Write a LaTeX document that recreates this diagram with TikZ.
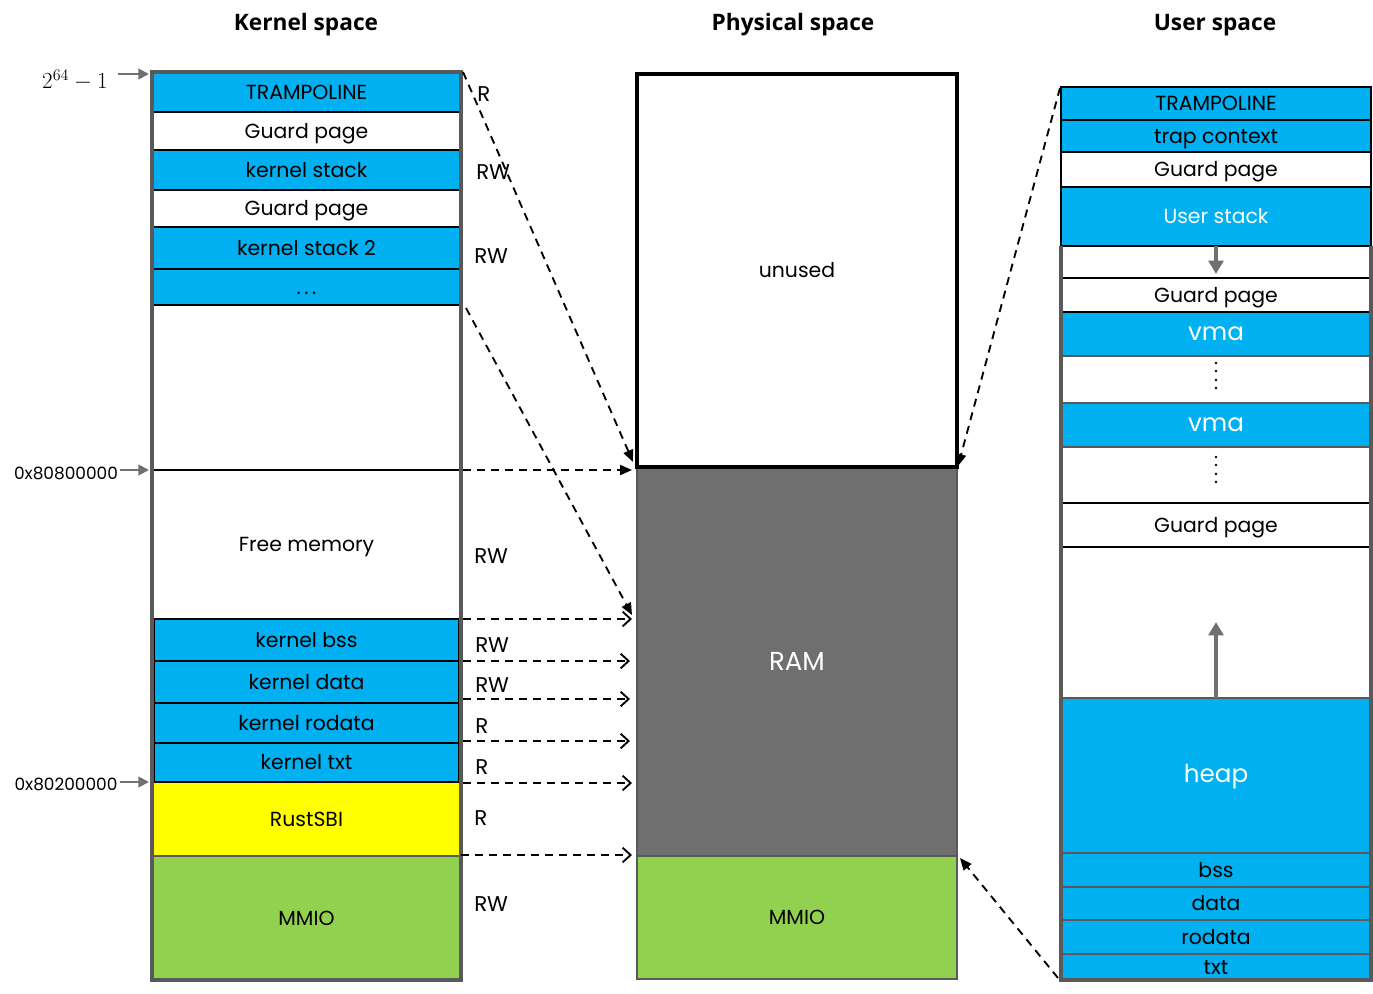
\documentclass[tikz,border=0pt]{standalone}
\usepackage{fontspec}
\setmainfont{Poppins}
\newfontfamily\titlefont{Open Sans}
\usetikzlibrary{arrows.meta,calc}
\definecolor{cblue}{HTML}{00B0F0}
\definecolor{cgreen}{HTML}{92D050}
\definecolor{cyellow}{HTML}{FFFF00}
\definecolor{cram}{HTML}{6F6F6F}
\definecolor{cborder}{HTML}{595959}
\definecolor{carrow}{HTML}{707070}
\tikzset{
  cellbase/.style={inner sep=0pt, outer sep=0pt, line width=2.2pt, text height=12pt, text depth=1pt, font=\fontsize{15.3}{17}\selectfont},
  bluecell/.style={cellbase, fill=cblue, draw=black},
  whitecell/.style={cellbase, fill=white, draw=black},
  graycell/.style={cellbase, draw=cborder},
  bigwhite/.style={text=white, text height=11pt, text depth=1pt, font=\fontsize{18.5}{20}\selectfont},
  ramtext/.style={text=white, text height=14.5pt, text depth=1pt, font=\fontsize{19.5}{21}\selectfont},
  outerframe/.style={draw=cborder, line width=2.4pt},
  dashcon/.style={dash pattern=on 6pt off 4.5pt, line width=1.4pt},
  filledtip/.style={-{Triangle[length=9pt,width=7.5pt]}},
  opentip/.style={-{Straight Barb[length=6pt,width=11pt,line width=1.4pt]}},
  grayarrow/.style={draw=carrow, line width=1.6pt, -{Triangle[length=8pt,width=8pt]}},
  fatgray/.style={draw=carrow, line width=3pt, -{Triangle[length=10pt,width=11pt]}},
  perm/.style={anchor=west, inner sep=0pt, font=\fontsize{16}{18}\selectfont},
  addr/.style={inner sep=0pt, font=\fontsize{12.7}{14}\selectfont},
  titletext/.style={font=\titlefont\bfseries\fontsize{17}{20}\selectfont},
}
% style, name, x1, y1, x2, y2, text (pixel coordinates)
\newcommand\mkcell[7]{\node[#1, minimum width={(#5-#3)*0.75pt}, minimum height={(#6-#4)*0.75pt}] (#2) at ({(#3+#5)/2},{(#4+#6)/2}) {#7};}
\begin{document}
\begin{tikzpicture}[x=0.75pt,y=-0.75pt]
\useasboundingbox (0,0) rectangle (1373,993);
\fill[white] (0,0) rectangle (1373,993);

% titles
\node[titletext] (t1) at (306,25) {Kernel space};
\node[titletext] (t2) at (793,25) {Physical space};
\node[titletext] (t3) at (1215,25) {User space};

% ---------------- kernel space ----------------
\mkcell{graycell, fill=cgreen}{kN}{152}{856}{461}{980}{MMIO}
\mkcell{graycell, fill=cyellow}{kM}{152}{782}{461}{856}{RustSBI}
\mkcell{graycell, fill=white}{kH}{152}{470}{461}{619}{Free memory}
\mkcell{bluecell}{kI}{154}{619}{459}{661}{kernel bss}
\mkcell{bluecell}{kJ}{154}{661}{459}{703}{kernel data}
\mkcell{bluecell}{kK}{154}{703}{459}{743}{kernel rodata}
\mkcell{bluecell}{kL}{154}{743}{459}{782}{kernel txt}
\mkcell{whitecell}{kG}{152}{305}{461}{470}{}
\mkcell{bluecell}{kF}{152}{269}{461}{305}{.\,.\,.}
\mkcell{bluecell}{kE}{152}{227}{461}{269}{kernel stack 2}
\mkcell{whitecell}{kD}{152}{190}{461}{227}{Guard page}
\mkcell{bluecell}{kC}{152}{150}{461}{190}{kernel stack}
\mkcell{whitecell}{kB}{152}{112}{461}{150}{Guard page}
\mkcell{bluecell}{kA}{152}{72}{461}{112}{TRAMPOLINE}
\draw[outerframe] (kA.north west) rectangle (kN.south east);

% address labels
\node[inner sep=0pt, font=\fontsize{18}{20}\selectfont] (a1) at (75,80) {$2^{64}-1$};
\node[addr] (a2) at (66,473) {0x80800000};
\node[addr] (a3) at (66,784) {0x80200000};
\coordinate (a1e) at (118,74);
\draw[grayarrow] (a1e) -- ($(kA.north west)+(-3,2)$);
\draw[grayarrow] ($(a2.east)+(2,-3)$) -- ($(kH.north west)+(-3,0)$);
\draw[grayarrow] ($(a3.east)+(2,-2)$) -- ($(kM.north west)+(-3,0)$);

% permissions
\node[perm] (r1) at (477,94) {R};
\node[perm] (r2) at (476,172) {RW};
\node[perm] (r3) at (474,256) {RW};
\node[perm] (r4) at (474,556) {RW};
\node[perm] (r5) at (475,645) {RW};
\node[perm] (r6) at (475,685) {RW};
\node[perm] (r7) at (475,726) {R};
\node[perm] (r8) at (475,767) {R};
\node[perm] (r9) at (474,818) {R};
\node[perm] (r10) at (474,904) {RW};

% ---------------- physical space ----------------
\mkcell{graycell, fill=cram, ramtext}{pR}{637}{467}{957}{856}{RAM}
\mkcell{graycell, fill=cgreen}{pM}{637}{856}{957}{979}{MMIO}
\mkcell{whitecell, line width=2.6pt}{pU}{637}{74}{957}{467}{unused}

% ---------------- user space ----------------
\mkcell{graycell, fill=cblue, bigwhite}{uM}{1061}{698}{1371}{853}{heap}
\mkcell{graycell, fill=cblue}{uN}{1061}{853}{1371}{887}{bss}
\mkcell{graycell, fill=cblue}{uO}{1061}{887}{1371}{920}{data}
\mkcell{graycell, fill=cblue}{uP}{1061}{920}{1371}{954}{rodata}
\mkcell{graycell, fill=cblue}{uQ}{1061}{954}{1371}{980}{txt}
\mkcell{graycell, fill=white}{uL}{1061}{547}{1371}{698}{}
\mkcell{graycell, fill=white}{uJ}{1061}{447}{1371}{503}{}
\mkcell{graycell, fill=cblue, bigwhite}{uI}{1061}{403}{1371}{447}{vma}
\mkcell{graycell, fill=white}{uH}{1061}{356}{1371}{403}{}
\mkcell{graycell, fill=cblue, bigwhite}{uG}{1061}{312}{1371}{356}{vma}
\mkcell{graycell, fill=white}{uE}{1061}{246}{1371}{278}{}
\mkcell{whitecell}{uK}{1061}{503}{1371}{547}{Guard page}
\mkcell{whitecell}{uF}{1061}{278}{1371}{312}{Guard page}
\mkcell{bluecell, text=white}{uD}{1061}{187}{1371}{246}{User stack}
\mkcell{whitecell}{uC}{1061}{152}{1371}{187}{Guard page}
\mkcell{bluecell}{uB}{1061}{120}{1371}{152}{trap context}
\mkcell{bluecell}{uA}{1061}{87}{1371}{120}{TRAMPOLINE}
\draw[outerframe] (uE.north west) -- (uQ.south west) -- (uQ.south east) -- (uE.north east);

% vertical dots
\foreach \yy in {363,371,380,388} \fill (1216,\yy) circle (1.4);
\foreach \yy in {457,465,474,482} \fill (1216,\yy) circle (1.4);

% growth arrows
\draw[fatgray] (uE.north) -- ($(uE.north)+(0,28)$);
\draw[fatgray] (uL.south) -- ($(uL.south)+(0,-76)$);

% ---------------- connectors ----------------
\draw[dashcon, filledtip] ($(kA.north east)+(2,0)$) -- ($(pU.south west)+(-4,-5)$);
\draw[dashcon, filledtip] ($(kF.south east)+(5,3)$) -- ($(pR.west |- kH.south)+(-5,-4)$);
\draw[dashcon, filledtip] ($(kH.north east)+(2,0)$) -- ($(kH.north east -| pU.south west)+(-5,0)$);
\draw[dashcon, opentip] ($(kH.south east)+(2,0)$) -- ($(kH.south east -| pR.west)+(-5,0)$);
\draw[dashcon, opentip] ($(kI.south east)+(4,0)$) -- ($(kI.south east -| pR.west)+(-7,0)$);
\draw[dashcon, opentip] ($(kJ.south east)+(4,-4)$) -- ($(kJ.south east -| pR.west)+(-7,-4)$);
\draw[dashcon, opentip] ($(kK.south east)+(4,-2)$) -- ($(kK.south east -| pR.west)+(-7,-2)$);
\draw[dashcon, opentip] ($(kL.south east)+(4,1)$) -- ($(kL.south east -| pR.west)+(-5,1)$);
\draw[dashcon, opentip] ($(kM.south east)+(0,-1)$) -- ($(kM.south east -| pR.west)+(-5,-1)$);
\draw[dashcon, filledtip] ($(uA.north west)+(-1,1)$) -- ($(pU.south east)+(1,-1)$);
\draw[dashcon, filledtip] ($(uQ.south west)+(-3,-2)$) -- ($(pM.north east)+(3,2)$);
\end{tikzpicture}
\end{document}
